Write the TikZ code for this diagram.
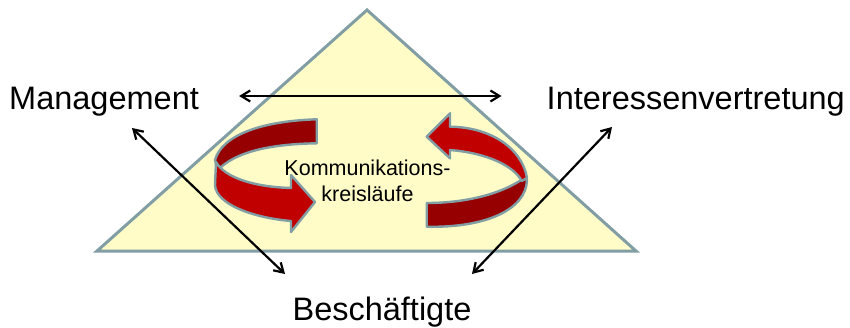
\documentclass[tikz,border=0pt]{standalone}
\usepackage{fontspec}
\setmainfont{Liberation Sans}
\usetikzlibrary{
  arrows.meta,
  positioning
}
\definecolor{dreiFill}{RGB}{255,252,200}
\definecolor{dreiLine}{RGB}{130,158,165}
\definecolor{kreisFront}{RGB}{192,0,0}
\definecolor{kreisBack}{RGB}{150,0,0}
\tikzset{
  partner/.style={
    inner sep=0pt,
    font=\fontsize{32.5}{38}\selectfont
  },
  kreistext/.style={
    inner sep=0pt,
    align=center,
    font=\fontsize{21.5}{26}\selectfont
  },
  dreieck/.style={
    draw=dreiLine,
    fill=dreiFill,
    line width=3pt,
    line join=miter
  },
  kreisband/.style={
    draw=dreiLine,
    line width=2.4pt,
    line join=round
  },
  wechsel/.style={
    {Straight Barb[length=9pt,width=11pt]}-{Straight Barb[length=9pt,width=11pt]},
    line width=2.2pt,
    draw=black
  }
}

\begin{document}
\begin{tikzpicture}[x=1pt,y=-1pt]
  \useasboundingbox (0,0) rectangle (850,327);

  % Dreieck
  \draw[dreieck] (97,251) -- (367,10) -- (636,251) -- cycle;

  % linker Kreislauf
  \draw[kreisband, fill=kreisBack]
    (316.7,119.3) .. controls (262,121) and (222,135) .. (215,160)
    -- (218,170) .. controls (235,152) and (270,144) .. (316.7,143.3) -- cycle;
  \draw[kreisband, fill=kreisFront]
    (216,162) .. controls (225,178) and (255,187) .. (291,188)
    -- (291,175) -- (315,202) -- (291,232) -- (291,221)
    .. controls (255,218) and (216,205) .. (215,185) -- cycle;

  % rechter Kreislauf
  \draw[kreisband, fill=kreisBack]
    (426.7,203) .. controls (470,203) and (505,192) .. (524,178)
    -- (527,180) .. controls (526,210) and (485,228) .. (426.7,226.7) -- cycle;
  \draw[kreisband, fill=kreisFront]
    (450,126.7) .. controls (490,127) and (522,148) .. (527,178)
    -- (521.7,181) .. controls (514,166) and (487,153) .. (450,150)
    -- (450,158.3) -- (426.7,136.7) -- (450,113.3) -- cycle;

  % Texte
  \node[partner, anchor=base west] (mgmt) at (9,109) {Management};
  \node[partner, anchor=base east] (iv) at (845,109) {Interessenvertretung};
  \node[partner, anchor=base] (besch) at (382,320) {Beschäftigte};
  \node[kreistext] (komm) at (367.5,181) {Kommunikations-\\kreisläufe};

  % Beziehungen
  \coordinate (mgmtB) at (132,128);
  \coordinate (beschL) at (285,274);
  \coordinate (ivB) at (612,127);
  \coordinate (beschR) at (472,274);

  \draw[wechsel, shorten <=40pt, shorten >=45pt] (mgmt.east |- 0,96) -- (iv.west |- 0,96);
  \draw[wechsel] (mgmtB) -- (beschL);
  \draw[wechsel] (ivB) -- (beschR);
\end{tikzpicture}
\end{document}
